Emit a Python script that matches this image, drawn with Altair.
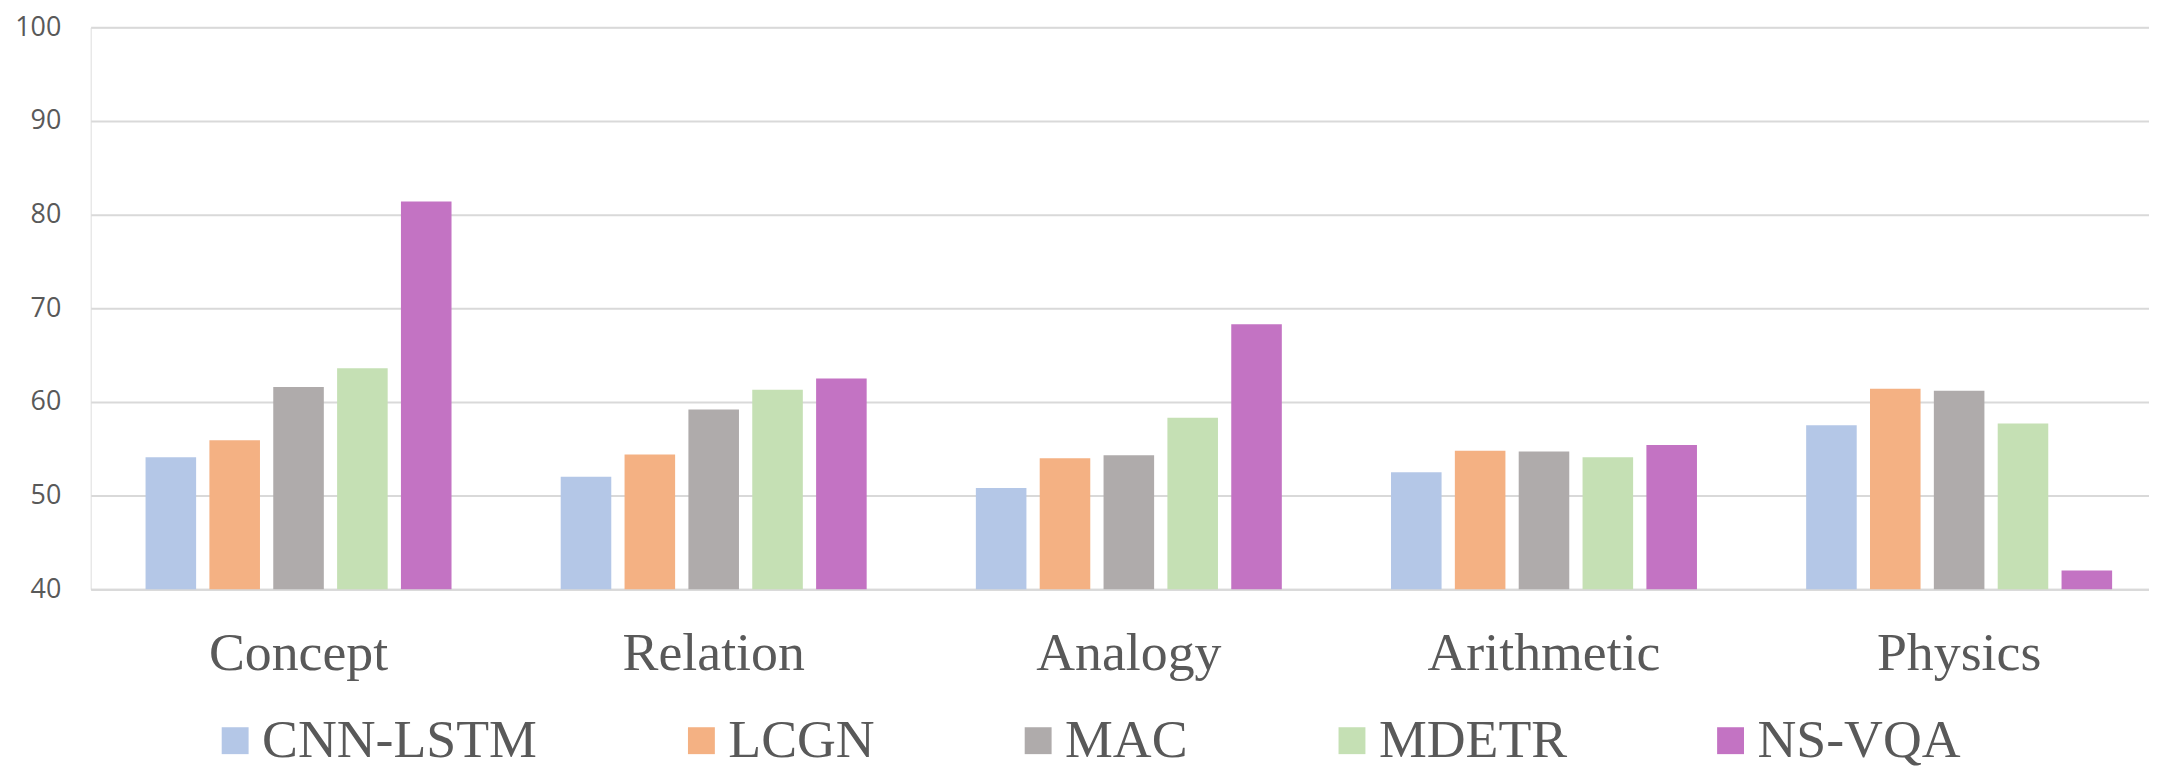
import altair as alt
import pandas as pd

categories = ["Concept", "Relation", "Analogy", "Arithmetic", "Physics"]
models = ["CNN-LSTM", "LCGN", "MAC", "MDETR", "NS-VQA"]
cnn_lstm = [54.1, 52.0, 50.8, 52.5, 57.5]
lcgn = [55.9, 54.4, 54.0, 54.8, 61.4]
mac = [61.6, 59.2, 54.3, 54.7, 61.2]
mdetr = [63.6, 61.3, 58.3, 54.1, 57.7]
ns_vqa = [81.4, 62.5, 68.3, 55.4, 42.0]
y_ticks = [40, 50, 60, 70, 80, 90, 100]
colors = ["#B4C7E7", "#F4B183", "#AFABAB", "#C5E0B4", "#C373C3"]

rows = []
for m, vals in zip(models, [cnn_lstm, lcgn, mac, mdetr, ns_vqa]):
    for c, v in zip(categories, vals):
        rows.append({"category": c, "model": m, "value": v})
df = pd.DataFrame(rows)

bars = alt.Chart(df).mark_bar().encode(
    x=alt.X(
        "category:N",
        sort=categories,
        scale=alt.Scale(paddingInner=0.263, paddingOuter=0.1105, align=0.598),
        axis=alt.Axis(
            title=None, labelAngle=0, labelFont="Liberation Serif", labelFontSize=54,
            labelColor="#595959", labelPadding=38, labelLimit=0, ticks=False, domain=True,
            domainColor="#D9D9D9", domainWidth=2, grid=False,
        ),
    ),
    xOffset=alt.XOffset("model:N", sort=models, scale=alt.Scale(paddingInner=0.208, paddingOuter=0)),
    y=alt.Y(
        "value:Q",
        scale=alt.Scale(domain=[40, 100], nice=False, zero=False),
        axis=alt.Axis(
            title=None, values=y_ticks, domain=False, ticks=False,
            gridColor="#D9D9D9", gridWidth=2, labelFont="Open Sans", labelFontSize=27,
            labelColor="#595959", labelPadding=30,
        ),
    ),
    y2=alt.datum(40),
    color=alt.Color(
        "model:N",
        sort=models,
        scale=alt.Scale(domain=models, range=colors),
        legend=alt.Legend(
            title=None, orient="none", legendX=118, legendY=689, direction="horizontal",
            columns=5, symbolType="square", symbolSize=729, symbolStrokeWidth=0,
            labelFont="Liberation Serif", labelFontSize=54, labelColor="#595959",
            labelOffset=0, columnPadding=137, labelLimit=0, padding=0,
        ),
    ),
).properties(
    width=2066,
    height=564,
    padding={"left": 83, "top": 18, "right": 0, "bottom": 181},
    autosize="none",
).configure_view(stroke=None).configure(background="white")

bars.save("out.html", embed_options={"renderer": "svg", "actions": False})
